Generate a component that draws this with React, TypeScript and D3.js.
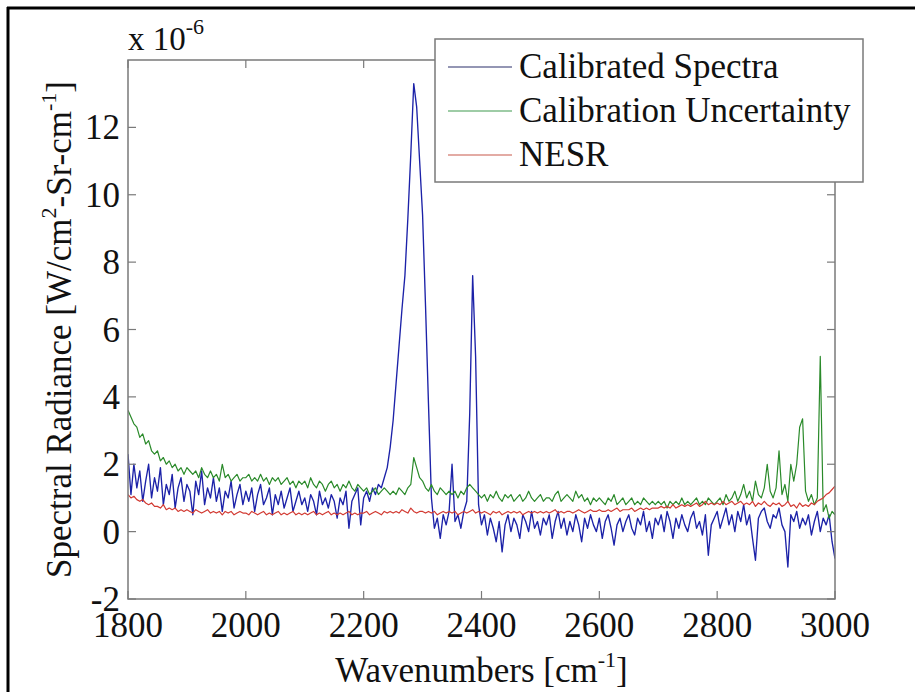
import React from 'react';
import * as d3 from 'd3';

const WAVENUMBERS: number[] = d3.range(1800, 3001, 5);

const CALIBRATED_SPECTRA = [
  2.3, 1.1, 2.0, 1.3, 1.8, 0.9, 1.5, 2.0, 1.0, 1.6,
  1.2, 1.9, 0.8, 1.4, 1.1, 1.7, 0.7, 1.3, 1.6, 0.9,
  1.4, 1.2, 0.5, 1.5, 1.1, 1.8, 0.8, 1.3, 1.0, 1.6,
  0.9, 1.3, 0.6, 1.2, 1.0, 1.5, 0.7, 1.1, 1.4, 0.8,
  1.2, 0.9, 1.3, 0.6, 1.1, 1.4, 0.8, 1.0, 1.3, 0.5,
  1.1, 0.8, 1.2, 0.7, 1.0, 1.3, 0.6, 0.9, 1.2, 0.8,
  1.0, 0.6, 1.1, 0.9, 0.5, 1.2, 0.8, 1.0, 0.7, 1.1,
  0.9, 0.4, 1.0, 0.8, 1.2, 0.1, 0.9, 1.1, 1.3, 0.2,
  1.0, 1.2, 0.9, 1.3, 1.1, 1.4, 1.3, 1.6, 1.9, 2.5,
  3.3, 4.4, 5.5, 6.6, 7.6, 9.3, 11.2, 13.3, 12.6, 11.0,
  9.4, 6.7, 3.8, 1.0, 0.1, 0.4, -0.2, 0.5, 0.2, 0.6,
  2.0, 0.3, 0.5, 0.1, 0.6, 0.9, 3.5, 7.6, 5.2, 0.8,
  0.2, 0.5, -0.1, 0.4, 0.1, -0.3, 0.3, -0.6, 0.2, 0.5,
  0.0, 0.4, 0.2, -0.2, 0.5, 0.3, 0.0, 0.6, 0.1, 0.3,
  -0.1, 0.4, 0.2, 0.5, -0.2, 0.3, 0.6, 0.1, 0.4, -0.1,
  0.3, 0.0, 0.5, 0.2, -0.3, 0.4, 0.1, 0.5, 0.2, 0.0,
  0.4, -0.2, 0.3, 0.5, 0.1, -0.4, 0.2, 0.4, 0.0, 0.3,
  0.5, 0.1, -0.1, 0.4, 0.2, 0.6, 0.0, 0.3, -0.2, 0.4,
  0.2, 0.5, 0.0, 0.6, 0.3, -0.2, 0.4, 0.1, 0.5, 0.2,
  0.0, 0.4, 0.6, 0.1, 0.3, -0.1, 0.5, -0.7, 0.2, 0.4,
  0.6, 0.1, 0.4, 0.7, 0.2, 0.5, 0.0, 0.6, 0.3, 0.8,
  0.2, 0.5, -0.2, -0.85, 0.4, 0.6, 0.7, 0.3, 0.1, 0.5,
  0.4, 0.7, 0.2, 0.0, -1.05, 0.5, 0.3, 0.6, 0.1, 0.4,
  0.2, 0.5, -0.1, 0.3, 0.6, 0.0, 0.4, 0.2, 0.5, -0.3,
  -0.8,
];

const CALIBRATION_UNCERTAINTY = [
  3.6, 3.4, 3.2, 3.1, 2.8, 2.9, 2.6, 2.7, 2.4, 2.3,
  2.4, 2.1, 2.2, 2.0, 2.1, 1.9, 2.0, 1.8, 1.9, 1.7,
  1.9, 1.8, 1.7, 1.8, 1.6, 1.9, 1.7, 1.6, 1.8, 1.6,
  1.7, 1.5, 2.0, 1.6, 1.7, 1.5, 1.6, 1.7, 1.5, 1.6,
  1.6, 1.7, 1.5, 1.6, 1.5, 1.7, 1.5, 1.6, 1.4, 1.6,
  1.5, 1.6, 1.4, 1.5, 1.6, 1.4, 1.5, 1.3, 1.5, 1.4,
  1.5, 1.3, 1.6, 1.4, 1.3, 1.5, 1.4, 1.2, 1.4, 1.5,
  1.3, 1.4, 1.2, 1.4, 1.3, 1.5, 1.3, 1.2, 1.4, 1.3,
  1.2, 1.3, 1.1, 1.2, 1.3, 1.1, 1.2, 1.3, 1.2, 1.1,
  1.2, 1.1, 1.3, 1.2, 1.1, 1.3, 1.4, 2.2, 1.9, 1.6,
  1.5, 1.3, 1.2, 1.4, 1.2, 1.1, 1.3, 1.2, 1.1, 1.2,
  1.1, 1.2, 1.0, 1.2, 1.1, 1.3, 1.4, 1.3, 1.2, 1.1,
  1.0, 1.1, 0.9, 1.1, 1.0, 1.2, 1.0, 0.9, 1.1, 1.0,
  1.1, 0.9, 1.0, 1.1, 0.9, 1.0, 1.2, 1.0, 0.9, 1.0,
  1.1, 0.9, 1.0, 1.0, 0.9, 1.1, 1.2, 0.9, 1.0, 1.1,
  1.0, 0.9, 1.2, 1.0, 1.1, 0.9, 1.0, 0.8, 1.0, 0.9,
  1.0, 0.9, 0.8, 1.0, 0.9, 1.1, 0.8, 0.9, 1.0, 0.8,
  0.9, 1.0, 0.8, 0.9, 0.8, 1.0, 0.9, 0.8, 0.9, 0.8,
  0.9, 0.8, 0.9, 0.7, 0.9, 0.8, 0.9, 0.8, 1.0, 0.8,
  0.9, 0.8, 0.9, 1.0, 0.8, 0.9, 0.8, 1.0, 0.9, 0.8,
  0.9, 1.0, 0.8, 1.1, 0.9, 1.0, 1.2, 0.9, 1.1, 1.4,
  1.0, 1.2, 0.9, 1.5, 1.1, 1.0, 1.3, 2.0, 1.2, 1.0,
  1.3, 2.4, 1.1, 1.4, 0.9, 2.0, 1.5, 2.0, 3.1, 3.35,
  1.2, 0.9, 1.1, 0.8, 1.0, 5.2, 0.6, 0.8, 0.4, 0.6,
  0.5,
];

const NESR = [
  1.1, 1.0, 1.05, 0.95, 0.9, 0.95, 0.85, 0.8, 0.85, 0.75,
  0.75, 0.7, 0.8, 0.65, 0.7, 0.65, 0.7, 0.6, 0.65, 0.6,
  0.65, 0.6, 0.55, 0.65, 0.6, 0.55, 0.6, 0.65, 0.55, 0.6,
  0.55, 0.6, 0.5, 0.6, 0.55, 0.6, 0.5, 0.55, 0.6, 0.55,
  0.55, 0.5, 0.6, 0.55, 0.5, 0.55, 0.6, 0.5, 0.55, 0.5,
  0.55, 0.6, 0.5, 0.55, 0.5, 0.55, 0.6, 0.5, 0.55, 0.5,
  0.55, 0.5, 0.55, 0.6, 0.5, 0.55, 0.5, 0.55, 0.6, 0.5,
  0.55, 0.5, 0.55, 0.5, 0.55, 0.6, 0.5, 0.55, 0.5, 0.55,
  0.55, 0.6, 0.5, 0.55, 0.6, 0.55, 0.5, 0.6, 0.55, 0.6,
  0.55, 0.6, 0.55, 0.65, 0.6, 0.55, 0.7, 0.6, 0.55, 0.6,
  0.6, 0.55, 0.6, 0.55, 0.6, 0.5, 0.55, 0.6, 0.55, 0.6,
  0.55, 0.6, 0.5, 0.55, 0.6, 0.55, 0.6, 0.65, 0.55, 0.6,
  0.55, 0.6, 0.55, 0.5, 0.6, 0.55, 0.6, 0.5, 0.55, 0.6,
  0.55, 0.6, 0.55, 0.6, 0.5, 0.55, 0.6, 0.55, 0.6, 0.55,
  0.6, 0.55, 0.6, 0.55, 0.6, 0.65, 0.55, 0.6, 0.55, 0.6,
  0.6, 0.55, 0.6, 0.65, 0.6, 0.55, 0.6, 0.65, 0.6, 0.6,
  0.65, 0.6, 0.6, 0.65, 0.6, 0.65, 0.7, 0.6, 0.65, 0.65,
  0.65, 0.7, 0.6, 0.65, 0.7, 0.65, 0.7, 0.65, 0.7, 0.7,
  0.7, 0.75, 0.7, 0.75, 0.7, 0.8, 0.7, 0.75, 0.8, 0.75,
  0.8, 0.75, 0.8, 0.85, 0.75, 0.8, 0.9, 0.8, 0.85, 0.8,
  0.85, 0.8, 0.9, 0.8, 0.85, 0.9, 0.8, 0.85, 0.9, 0.8,
  0.85, 0.8, 0.9, 0.75, 0.85, 0.8, 0.9, 0.8, 0.75, 0.85,
  0.8, 0.85, 0.75, 0.8, 0.9, 0.75, 0.8, 0.7, 0.85, 0.75,
  0.8, 0.75, 0.85, 0.8, 0.9, 0.95, 1.0, 1.1, 1.15, 1.25,
  1.35,
];

const X_TICKS = [1800, 2000, 2200, 2400, 2600, 2800, 3000];
const Y_TICKS = [-2, 0, 2, 4, 6, 8, 10, 12];
const SERIES_NAMES = ['Calibrated Spectra', 'Calibration Uncertainty', 'NESR'];
const SERIES_COLORS = ['#1c22a8', '#2a8a2a', '#d23a32'];
const LEGEND_COLORS = ['#2a2f6a', '#3f9a4f', '#c8584a'];

const FONT = "'Liberation Serif', 'DejaVu Serif', 'Times New Roman', Times, serif";

export default function App() {
  const W = 915;
  const H = 692;
  const left = 128, right = 835, top = 60, bottom = 599;
  const x = d3.scaleLinear().domain([1800, 3000]).range([left, right]);
  const y = d3.scaleLinear().domain([-2, 14]).range([bottom, top]);
  const lineGen = d3
    .line<number>()
    .x((_, i) => x(WAVENUMBERS[i]))
    .y((v) => y(v));
  const series = [CALIBRATED_SPECTRA, CALIBRATION_UNCERTAINTY, NESR];
  const widths = [1.35, 1.2, 1.2];
  const axisColor = '#7a7a7a';
  const tickLen = 8;
  const fs = 35;
  const txt: React.CSSProperties = { fontFamily: FONT };

  return (
    <div style={{ position: 'fixed', left: 0, top: 0 }}>
      <svg width={W} height={H} style={{ display: 'block', background: '#fff', fontFamily: FONT }}>
        <rect x={0} y={0} width={W} height={H} fill="#fff" />
        {/* outer frame */}
        <line x1={8} y1={7} x2={8} y2={H} stroke="#000" strokeWidth={3} />
        <line x1={7} y1={8} x2={915} y2={8} stroke="#000" strokeWidth={3} />

        <defs>
          <clipPath id="plotclip">
            <rect x={left} y={top} width={right - left} height={bottom - top} />
          </clipPath>
        </defs>

        <g clipPath="url(#plotclip)">
          {series.map((vals, k) => (
            <path
              key={k}
              d={lineGen(vals.slice(0, WAVENUMBERS.length)) || ''}
              fill="none"
              stroke={SERIES_COLORS[k]}
              strokeWidth={widths[k]}
              strokeLinejoin="round"
            />
          ))}
        </g>

        {/* box */}
        <rect x={left} y={top} width={right - left} height={bottom - top} fill="none" stroke={axisColor} strokeWidth={1.5} />

        {/* x ticks */}
        {X_TICKS.map((t) => (
          <g key={'x' + t}>
            <line x1={x(t)} x2={x(t)} y1={bottom} y2={bottom - tickLen} stroke={axisColor} strokeWidth={1.2} />
            <line x1={x(t)} x2={x(t)} y1={top} y2={top + tickLen} stroke={axisColor} strokeWidth={1.2} />
            <text x={x(t)} y={bottom + 38} textAnchor="middle" style={txt} fontSize={fs} fill="#111">
              {t}
            </text>
          </g>
        ))}

        {/* y ticks */}
        {Y_TICKS.map((t) => (
          <g key={'y' + t}>
            <line x1={left} x2={left + tickLen} y1={y(t)} y2={y(t)} stroke={axisColor} strokeWidth={1.2} />
            <line x1={right} x2={right - tickLen} y1={y(t)} y2={y(t)} stroke={axisColor} strokeWidth={1.2} />
            <text x={left - 8} y={y(t) + 12} textAnchor="end" style={txt} fontSize={fs} fill="#111">
              {t}
            </text>
          </g>
        ))}

        {/* exponent */}
        <text x={left} y={50} style={txt} fontSize={33} fill="#111">
          x 10
          <tspan dy={-16} fontSize={22}>-6</tspan>
        </text>

        {/* x label */}
        <text x={(left + right) / 2} y={682} textAnchor="middle" style={txt} fontSize={35} fill="#111">
          Wavenumbers [cm
          <tspan dy={-15} fontSize={22}>-1</tspan>
          <tspan dy={15}>]</tspan>
        </text>

        {/* y label */}
        <text
          transform={`translate(71, ${(top + bottom) / 2}) rotate(-90)`}
          textAnchor="middle"
          style={txt}
          fontSize={35}
          fill="#111"
        >
          Spectral Radiance [W/cm
          <tspan dy={-15} fontSize={22}>2</tspan>
          <tspan dy={15}>-Sr-cm</tspan>
          <tspan dy={-15} fontSize={22}>-1</tspan>
          <tspan dy={15}>]</tspan>
        </text>

        {/* legend */}
        <rect x={435} y={39} width={428} height={143} fill="#fff" stroke={axisColor} strokeWidth={1.5} />
        {SERIES_NAMES.map((name, k) => {
          const ly = 67 + k * 44;
          return (
            <g key={name}>
              <line x1={448} x2={512} y1={ly} y2={ly} stroke={LEGEND_COLORS[k]} strokeWidth={1.2} />
              <text x={519} y={ly + 11} style={txt} fontSize={fs} fill="#111">
                {name}
              </text>
            </g>
          );
        })}
      </svg>
    </div>
  );
}
